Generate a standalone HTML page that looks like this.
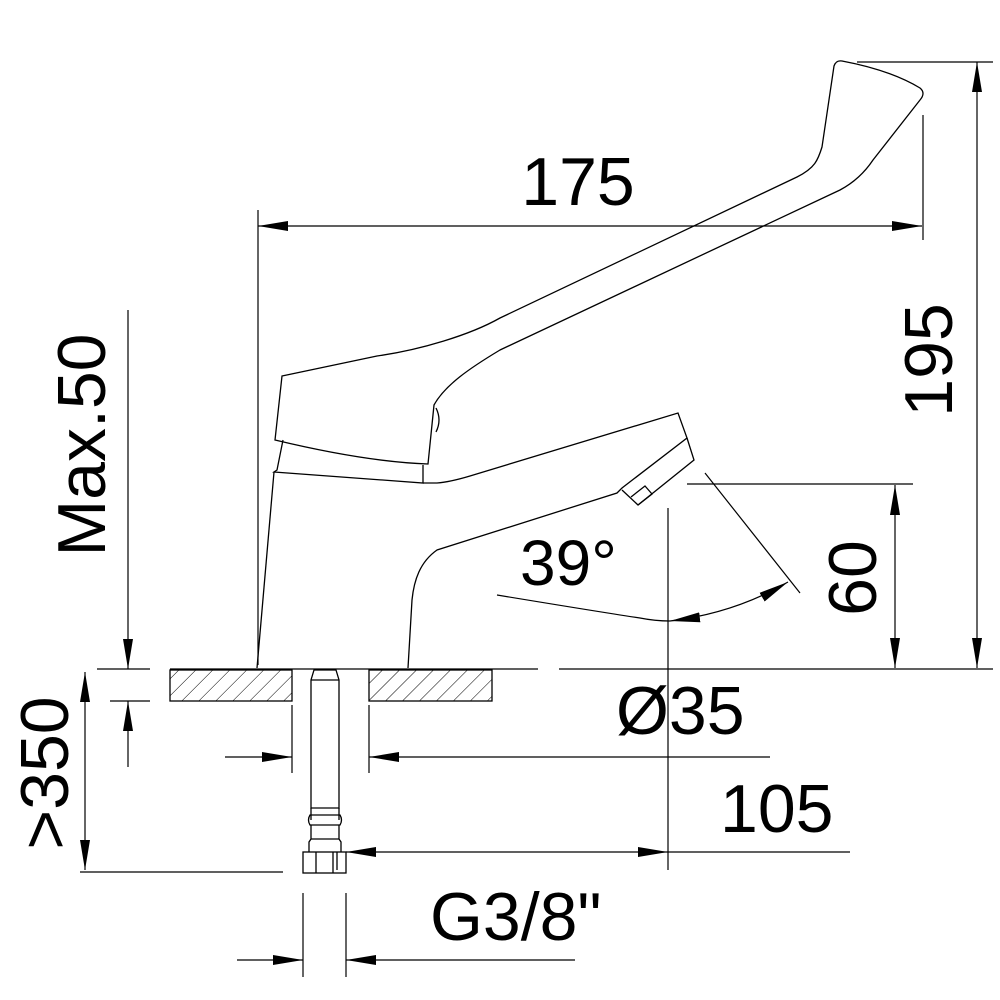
<!DOCTYPE html>
<html><head><meta charset="utf-8"><style>
html,body{margin:0;padding:0;background:#fff}
svg{display:block}
text{font-family:"Liberation Sans",sans-serif;fill:#000}
</style></head><body>
<svg width="1000" height="1000" viewBox="0 0 1000 1000" xmlns="http://www.w3.org/2000/svg">
<defs>
<pattern id="h" width="12" height="12" patternUnits="userSpaceOnUse" patternTransform="rotate(45)">
<line x1="0" y1="0" x2="0" y2="12" stroke="#000" stroke-width="1"/>
</pattern>
<marker id="a" viewBox="0 0 30 10" refX="30" refY="5" markerWidth="30" markerHeight="10" markerUnits="userSpaceOnUse" orient="auto-start-reverse">
<path d="M0,0 L30,5 L0,10 Z" fill="#000"/>
</marker>
</defs>
<g fill="none" stroke="#000" stroke-width="1.3">
<path d="M282,376 L377,356 C420,350 470,335 500,318 L797,177 C815,168 818,160 822,147 L834,66 Q836,60 842,61 Q890,70 920,88 Q926,93 920,100 L873,160 C865,172 855,182 840,190 L500,350 C470,368 445,385 434,405 L428,464 C400,463 350,458 275,440 Z"/>
<path d="M436,408 Q442,420 436,432" />
<path d="M283,440 L277,470 L274,472 L423,483 L423,465"/>
<path d="M274,472 L257,668"/>
<path d="M423,483 L437,483 Q450,482 470,476 L678,413 L687,438 L622,488 L617,493 L437,550 C420,562 414,580 412,600 L408,668"/>
<path d="M687,438 L694,460 L638,505 L622,490"/>
<path d="M631,497 L645,486 L652,494 L638,505"/>
<rect x="170" y="670" width="122" height="31" fill="url(#h)"/>
<rect x="369" y="670" width="123" height="31" fill="url(#h)"/>
<path d="M314,670 L336,670 L339,680 L339,808 L311,808 L311,680 Z"/>
<line x1="311" y1="680" x2="339" y2="680"/>
<path d="M311,808 L311,820 M339,808 L339,820"/>
<path d="M310,815 Q307,820 310,825 L340,825 Q343,820 340,815 Z"/>
<path d="M311,825 L311,839 L309,842 L309,852 M339,825 L339,839 L341,842 L341,852 M311,839 L339,839"/>
<rect x="303" y="852" width="43" height="21"/>
<path d="M316,852 V873 M333,852 V873 M337,852 V870"/>
</g>
<g fill="none" stroke="#000" stroke-width="1.2">
<line x1="97" y1="669" x2="150" y2="669"/>
<line x1="110" y1="701" x2="150" y2="701"/>
<line x1="170" y1="669" x2="538" y2="669"/>
<line x1="559" y1="669" x2="993" y2="669"/>
<line x1="128" y1="310" x2="128" y2="669" marker-end="url(#a)"/>
<line x1="128" y1="767" x2="128" y2="701" marker-end="url(#a)"/>
<line x1="85" y1="672" x2="85" y2="870" marker-start="url(#a)" marker-end="url(#a)"/>
<line x1="80" y1="872" x2="283" y2="872"/>
<line x1="292" y1="705" x2="292" y2="773"/>
<line x1="369" y1="705" x2="369" y2="773"/>
<line x1="225" y1="757" x2="292" y2="757" marker-end="url(#a)"/>
<line x1="770" y1="757" x2="369" y2="757" marker-end="url(#a)"/>
<line x1="668" y1="508" x2="668" y2="870"/>
<line x1="346" y1="852" x2="668" y2="852" marker-start="url(#a)" marker-end="url(#a)"/>
<line x1="668" y1="852" x2="850" y2="852"/>
<line x1="303" y1="893" x2="303" y2="977"/>
<line x1="346" y1="893" x2="346" y2="977"/>
<line x1="237" y1="960" x2="303" y2="960" marker-end="url(#a)"/>
<line x1="575" y1="960" x2="346" y2="960" marker-end="url(#a)"/>
<line x1="258" y1="210" x2="258" y2="665"/>
<line x1="923" y1="115" x2="923" y2="240"/>
<line x1="258" y1="226" x2="922" y2="226" marker-start="url(#a)" marker-end="url(#a)"/>
<line x1="857" y1="62" x2="993" y2="62"/>
<line x1="977" y1="62" x2="977" y2="668" marker-start="url(#a)" marker-end="url(#a)"/>
<line x1="687" y1="484" x2="913" y2="484"/>
<line x1="895" y1="485" x2="895" y2="668" marker-start="url(#a)" marker-end="url(#a)"/>
<path d="M497,595 Q600,612 640,618 Q655,621 670,621"/>
<path d="M670,621 Q735,613 788,582" marker-start="url(#a)" marker-end="url(#a)"/>
<line x1="705" y1="473" x2="800" y2="593"/>
</g>
<g font-size="68">
<text x="578" y="205" text-anchor="middle">175</text>
<text x="520" y="585" font-size="64">39°</text>
<text x="616" y="734">Ø35</text>
<text x="720" y="832">105</text>
<text x="430" y="940">G3/8"</text>
<text transform="translate(105,445) rotate(-90)" text-anchor="middle">Max.50</text>
<text transform="translate(68,773) rotate(-90)" text-anchor="middle">&gt;350</text>
<text transform="translate(952,360) rotate(-90)" text-anchor="middle">195</text>
<text transform="translate(876,578) rotate(-90)" text-anchor="middle">60</text>
</g>
</svg>
</body></html>
